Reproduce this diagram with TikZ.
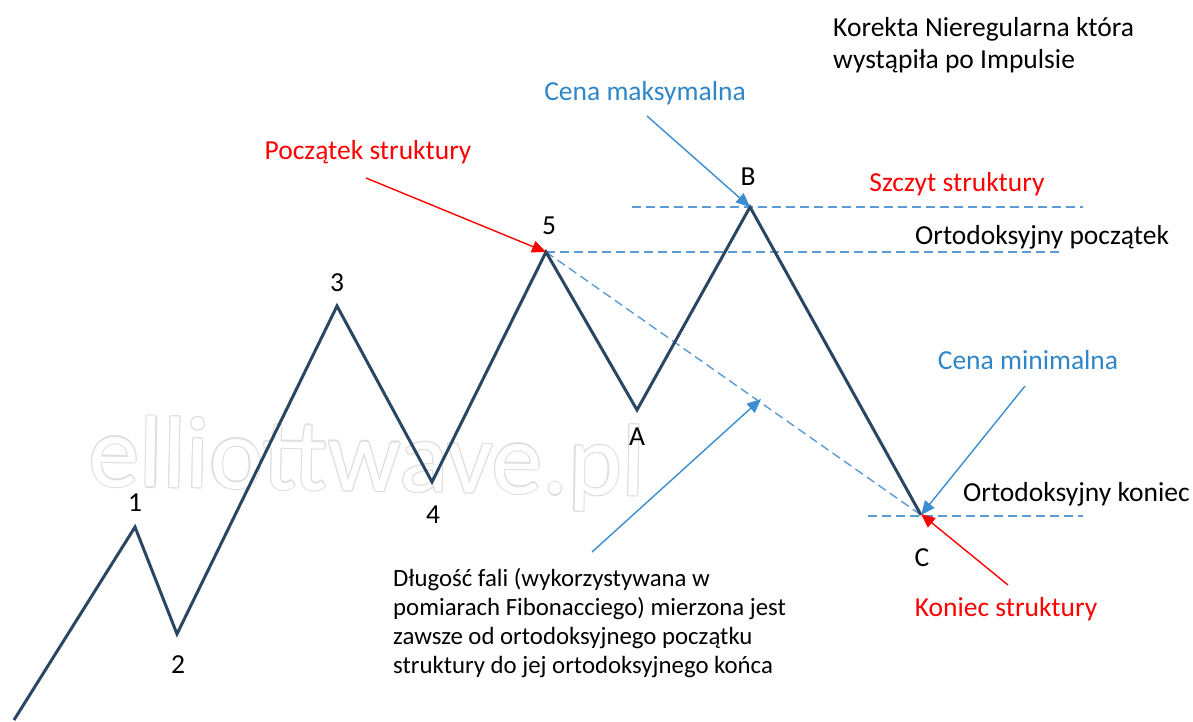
\documentclass[tikz,border=0pt]{standalone}
\usepackage{fontspec}
\setmainfont{Carlito}
\usetikzlibrary{arrows.meta}
\definecolor{wave}{HTML}{2B4660}
\definecolor{dashblue}{HTML}{5B9BD5}
\definecolor{arrblue}{HTML}{3C8DD0}
\definecolor{txtblue}{HTML}{2E86C8}
\definecolor{wm}{HTML}{DEDEDE}
\tikzset{
  wavepath/.style={draw=wave, line width=3pt, line join=miter},
  guide/.style={draw=dashblue, line width=1.4pt, dash pattern=on 9pt off 5pt},
  bluearrow/.style={draw=arrblue, line width=1.4pt, -{Triangle[length=14pt,width=12pt]}},
  redarrow/.style={draw=red, line width=1.4pt, -{Triangle[length=14pt,width=12pt]}},
  lbl/.style={inner sep=0pt, font=\fontsize{27.5}{32}\selectfont},
  redlbl/.style={lbl, text=red},
  bluelbl/.style={lbl, text=txtblue},
  wmtext/.style={inner sep=0pt, anchor=base west, rotate=-1, font=\fontsize{102}{102}\selectfont},
}
\begin{document}
\begin{tikzpicture}[x=1pt,y=-1pt]
\useasboundingbox (0,0) rectangle (1193,722);
% watermark (outlined text)
\foreach \dx/\dy in {-1.2/0,1.2/0,0/-1.2,0/1.2,-0.85/-0.85,0.85/0.85,-0.85/0.85,0.85/-0.85}{
  \node[wmtext, text=wm] at (88+\dx,486+\dy) {elliottwave.pl};
}
\node[wmtext, text=white] (wmark) at (88,486) {elliottwave.pl};
% wave points
\coordinate (p0) at (14,720);
\coordinate (w1) at (135,527);
\coordinate (w2) at (177,634);
\coordinate (w3) at (337,306);
\coordinate (w4) at (432,482);
\coordinate (w5) at (546,252);
\coordinate (wA) at (637,410);
\coordinate (wB) at (750,207);
\coordinate (wC) at (921,515);
% guides
\coordinate (gB1) at (632,207); \coordinate (gB2) at (1083,207);
\coordinate (g52) at (1063,252);
\coordinate (gC1) at (868,516); \coordinate (gC2) at (1083,516);
\draw[guide] (gB1) -- (gB2);
\draw[guide] (w5) -- (g52);
\draw[guide] (gC1) -- (gC2);
\draw[guide] (w5) -- (wC);
% wave
\draw[wavepath] (p0) -- (w1) -- (w2) -- (w3) -- (w4) -- (w5) -- (wA) -- (wB) -- (wC);
% wave labels
\node[lbl] (l1) at (135,503) {1};
\node[lbl] (l2) at (178,665) {2};
\node[lbl] (l3) at (337,283) {3};
\node[lbl] (l4) at (433,515) {4};
\node[lbl] (l5) at (549,226) {5};
\node[lbl] (lA) at (637,437) {A};
\node[lbl] (lB) at (748,177) {B};
\node[lbl] (lC) at (922,558) {C};
% texts
\node[lbl, anchor=north west, align=left] (title) at (833,17) {Korekta Nieregularna która\\wystąpiła po Impulsie};
\node[redlbl] (poczatek) at (368,152) {Początek struktury};
\node[bluelbl] (cenamax) at (645,93) {Cena maksymalna};
\node[redlbl] (szczyt) at (957,184) {Szczyt struktury};
\node[lbl, anchor=west] (ortpocz) at (915,237) {Ortodoksyjny początek};
\node[bluelbl] (cenamin) at (1028,360) {Cena minimalna};
\node[lbl, anchor=west] (ortkon) at (963,494) {Ortodoksyjny koniec};
\node[redlbl] (koniec) at (1006,609) {Koniec struktury};
\node[lbl, anchor=north west, align=left, font=\fontsize{24.8}{29.2}\selectfont] (para) at (393,568) {Długość fali (wykorzystywana w\\pomiarach Fibonacciego) mierzona jest\\zawsze od ortodoksyjnego początku\\struktury do jej ortodoksyjnego końca};
% arrows
\coordinate (a1s) at (366,178);
\coordinate (a2s) at (647,116);
\coordinate (a3s) at (1025,386);
\coordinate (a4s) at (1008,585);
\coordinate (a5s) at (592,552);
\coordinate (a5e) at (761,399);
\draw[redarrow] (a1s) -- (w5);
\draw[bluearrow] (a2s) -- (wB);
\draw[bluearrow] (a3s) -- (wC);
\draw[redarrow] (a4s) -- ([yshift=1pt]wC);
\draw[bluearrow] (a5s) -- (a5e);
\end{tikzpicture}
\end{document}
